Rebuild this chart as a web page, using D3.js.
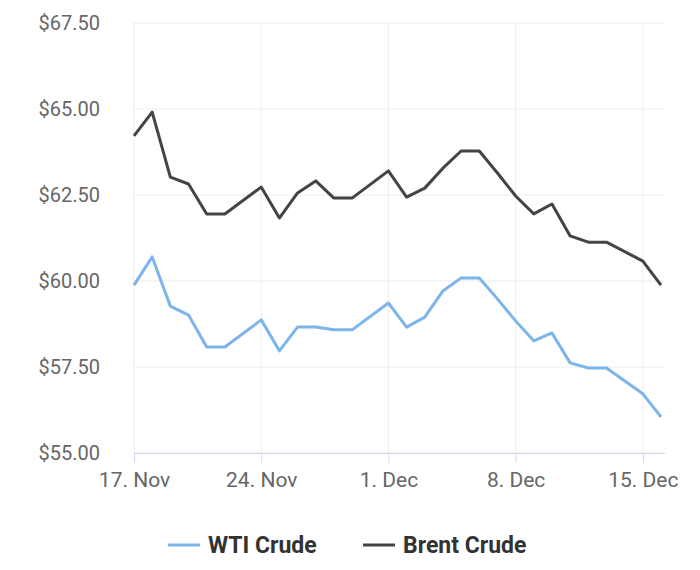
<!DOCTYPE html><html><head><meta charset="utf-8"><script src="https://cdn.jsdelivr.net/npm/d3@7"></script>
<style>body{margin:0;background:#fff}svg{font-family:Roboto,sans-serif}</style></head><body><svg id="c" width="700" height="570"></svg>
<script>
const dates=["2025-11-17","2025-11-18","2025-11-19","2025-11-20","2025-11-21","2025-11-22","2025-11-24","2025-11-25","2025-11-26","2025-11-27","2025-11-28","2025-11-29","2025-12-01","2025-12-02","2025-12-03","2025-12-04","2025-12-05","2025-12-06","2025-12-07","2025-12-08","2025-12-09","2025-12-10","2025-12-11","2025-12-12","2025-12-13","2025-12-15","2025-12-16"];
const wti=[59.88,60.70,59.27,59.01,58.08,58.08,58.87,57.97,58.66,58.66,58.58,58.58,59.36,58.66,58.95,59.71,60.09,60.09,59.48,58.84,58.26,58.49,57.62,57.47,57.47,56.72,56.05];
const brent=[64.22,64.91,63.02,62.82,61.95,61.95,62.73,61.83,62.56,62.91,62.41,62.41,63.20,62.44,62.70,63.28,63.78,63.78,63.14,62.47,61.95,62.24,61.31,61.13,61.13,60.58,59.88];
const yTicks=[55,57.5,60,62.5,65,67.5];
const xTicks=["2025-11-17","2025-11-24","2025-12-01","2025-12-08","2025-12-15"];
const seriesNames=["WTI Crude","Brent Crude"];
const colors=["#7cb5ec","#434348"];
const svg=d3.select("#c");
const L=134,R=665,T=23,B=453;
const p=d3.utcParse("%Y-%m-%d");
const x=d3.scaleUtc().domain([p("2025-11-17"),p("2025-12-16")]).range([L,661]);
const y=d3.scaleLinear().domain([55,67.5]).range([B,T]);
const g=svg.append("g");
g.selectAll(".hg").data(yTicks).join("line").attr("x1",L).attr("x2",R).attr("y1",d=>y(d)).attr("y2",d=>y(d)).attr("stroke","#ececec");
g.selectAll(".vg").data(xTicks).join("line").attr("x1",d=>x(p(d))).attr("x2",d=>x(p(d))).attr("y1",T).attr("y2",B).attr("stroke","#ececec");
const fmt=d3.format("$.2f");
svg.selectAll(".yl").data(yTicks).join("text").attr("x",100).attr("y",d=>y(d)+7).attr("text-anchor","end").attr("font-size",20).attr("fill","#666").text(d=>fmt(d));
const xa=svg.append("g").attr("transform",`translate(0,${B})`).call(d3.axisBottom(x).tickValues(xTicks.map(p)).tickSize(10).tickFormat(d3.utcFormat("%-d. %b")));
xa.select(".domain").attr("stroke","#ccd6eb").attr("d",`M${L},0.5H${R}`);
xa.selectAll(".tick line").attr("stroke","#ccd6eb");
xa.selectAll(".tick text").attr("font-size",21).attr("fill","#666").attr("font-family","Roboto,sans-serif").attr("dy","1em");
const line=d3.line().x((d,i)=>x(p(dates[i]))).y(d=>y(d));
[wti,brent].forEach((s,k)=>svg.append("path").attr("d",line(s)).attr("fill","none").attr("stroke",colors[k]).attr("stroke-width",3).attr("stroke-linejoin","round"));
const lg=[[168,"WTI Crude"],[363,"Brent Crude"]];
seriesNames.forEach((n,k)=>{const lx=lg[k][0];
svg.append("line").attr("x1",lx).attr("x2",lx+32).attr("y1",545).attr("y2",545).attr("stroke",colors[k]).attr("stroke-width",3);
svg.append("text").attr("x",lx+40).attr("y",553).attr("font-size",23).attr("font-weight","bold").attr("fill","#333").text(n);});
</script></body></html>
